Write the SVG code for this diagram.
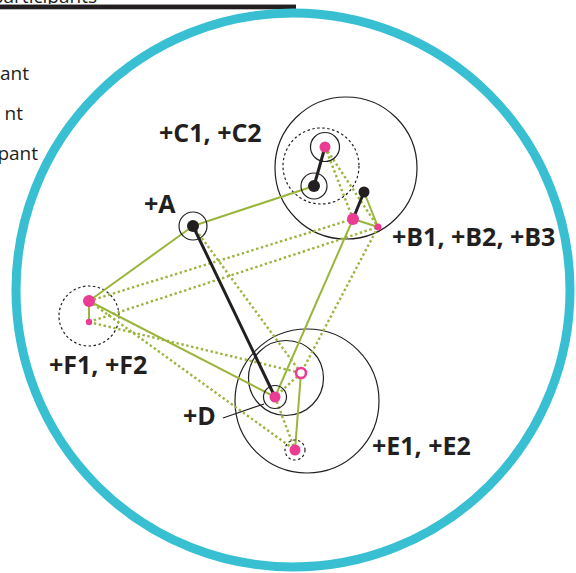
<svg xmlns="http://www.w3.org/2000/svg" width="576" height="573" viewBox="0 0 576 573">
<style>
.lbl{font-family:"Open Sans","Liberation Sans",sans-serif;font-weight:700;font-size:25px;fill:#231f20}
.side{font-family:"Open Sans","Liberation Sans",sans-serif;font-size:19px;fill:#231f20}
.ring{fill:none;stroke:#231f20;stroke-width:1.2}
.dring{fill:none;stroke:#231f20;stroke-width:1.2;stroke-dasharray:2.5 2.5}
.g{stroke:#9ab53b;stroke-width:2;fill:none}
.gd{stroke:#9ab53b;stroke-width:2.4;stroke-dasharray:2.4 2.6;fill:none}
.k{stroke:#231f20;stroke-width:3;fill:none}
.pk{fill:#ec3b92}
.bk{fill:#231f20}
</style>
<rect width="576" height="573" fill="#fff"/>
<text class="side" x="97" y="2.5" text-anchor="end">participants</text>
<line x1="0" y1="4.5" x2="296" y2="4.5" stroke="#9a9a9a" stroke-width="1"/>
<rect x="0" y="5" width="296" height="4.3" fill="#231f20"/>
<text class="side" x="29" y="80" text-anchor="end">ant</text>
<text class="side" x="23" y="120" text-anchor="end">nt</text>
<text class="side" x="38" y="160" text-anchor="end">pant</text>
<circle cx="293" cy="290" r="277" fill="none" stroke="#38c0d2" stroke-width="9"/>
<g id="circles">
<circle class="ring" cx="346" cy="168" r="71"/>
<circle class="dring" cx="321" cy="166" r="38"/>
<circle class="ring" cx="307" cy="401" r="72"/>
<circle class="ring" cx="286" cy="378" r="37.5"/>
<circle class="dring" cx="89" cy="316" r="30"/>
</g>
<g id="connectors">
<line class="gd" x1="325" y1="147" x2="353" y2="219"/>
<line class="gd" x1="325" y1="147" x2="378" y2="227"/>
<line class="gd" x1="89" y1="301" x2="353" y2="219"/>
<line class="gd" x1="89" y1="322" x2="378" y2="227"/>
<line class="gd" x1="193" y1="226" x2="301" y2="373"/>
<line class="gd" x1="378" y1="227" x2="301" y2="373"/>
<line class="gd" x1="89" y1="322" x2="301" y2="373"/>
<line class="gd" x1="89" y1="301" x2="295" y2="450"/>
<line class="gd" x1="301" y1="373" x2="275" y2="397"/>
<line class="gd" x1="275" y1="397" x2="295" y2="450"/>
<line class="g" x1="193" y1="226" x2="314" y2="186"/>
<line class="g" x1="193" y1="226" x2="89" y2="301"/>
<line class="g" x1="89" y1="301" x2="275" y2="397"/>
<line class="g" x1="275" y1="397" x2="353" y2="219"/>
<line class="g" x1="89" y1="301" x2="89" y2="322"/>
<line class="g" x1="364" y1="192" x2="378" y2="227"/>
<line class="g" x1="353" y1="219" x2="378" y2="227"/>
<line class="g" x1="301" y1="373" x2="295" y2="450"/>
<line class="k" x1="193" y1="226" x2="275" y2="397"/>
<line class="k" x1="314" y1="186" x2="325" y2="147"/>
<line class="k" x1="364" y1="192" x2="353" y2="219"/>
<line x1="223" y1="418" x2="264" y2="404" stroke="#231f20" stroke-width="1.2"/>
</g>
<g id="node-A">
<circle class="ring" cx="193" cy="226" r="14"/>
<circle class="bk" cx="193" cy="226" r="6"/>
<text class="lbl" x="144" y="213">+A</text>
</g>
<g id="node-C">
<circle class="ring" cx="325" cy="147" r="14.5"/>
<circle class="pk" cx="325" cy="147" r="5.5"/>
<circle class="ring" cx="314" cy="186" r="13"/>
<circle class="bk" cx="314" cy="186" r="6"/>
<text class="lbl" x="159" y="142">+C1, +C2</text>
</g>
<g id="node-B">
<circle class="bk" cx="364" cy="192" r="5.5"/>
<circle class="pk" cx="353" cy="219" r="6"/>
<circle class="pk" cx="378" cy="227" r="3.5"/>
<text class="lbl" x="392" y="246">+B1, +B2, +B3</text>
</g>
<g id="node-F">
<circle class="pk" cx="89" cy="301" r="6"/>
<circle class="pk" cx="89" cy="322" r="3.2"/>
<text class="lbl" x="49" y="374">+F1, +F2</text>
</g>
<g id="node-D">
<circle class="ring" cx="275" cy="397" r="11.5"/>
<circle class="pk" cx="275" cy="397" r="5.5"/>
<text class="lbl" x="183" y="425">+D</text>
</g>
<g id="node-E">
<circle cx="301" cy="373" r="5" fill="#fff" stroke="#ec3b92" stroke-width="2.6"/>
<circle class="dring" cx="295" cy="450" r="10"/>
<circle class="pk" cx="295" cy="450" r="5.5"/>
<text class="lbl" x="372" y="455">+E1, +E2</text>
</g>
</svg>
